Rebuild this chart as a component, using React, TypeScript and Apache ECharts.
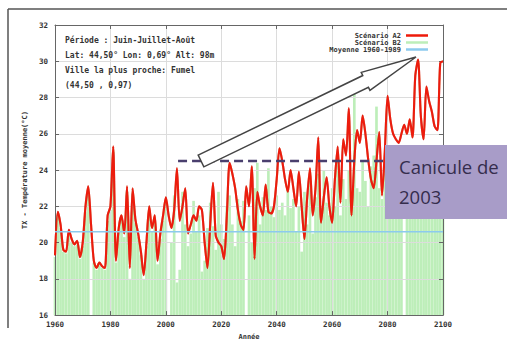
import React, { useEffect, useRef } from "react";
import * as echarts from "echarts";

const years: number[] = [];
for (let y = 1960; y <= 2100; y++) years.push(y);

const scenarioA2: number[] = [
  19.3, 21.7, 21.0, 19.6, 19.5, 20.7, 20.2, 19.9, 20.1, 19.2,
  20.0, 22.0, 23.1, 21.0, 19.0, 18.6, 18.9, 18.7, 18.6, 21.5,
  22.0, 25.3, 19.0, 20.8, 21.5, 20.5, 23.1, 18.6, 23.0, 21.3,
  20.5, 19.5, 18.2, 20.0, 22.0, 20.8, 21.5, 19.0, 20.5, 21.5,
  22.5, 21.5, 20.8, 21.8, 24.1, 21.2, 22.0, 23.0, 20.5, 21.0,
  21.5, 21.2, 22.0, 21.8, 20.0, 18.6, 21.0, 23.3, 20.4, 20.0,
  19.8, 19.1, 21.5, 24.4, 23.8, 23.0, 21.8, 21.0, 20.7, 23.1,
  22.0, 24.2, 19.1, 22.8, 22.0, 21.5, 23.2, 21.7, 21.6, 22.0,
  23.5, 25.2, 24.5, 23.5, 22.8, 24.0, 23.0, 22.0, 23.9, 22.0,
  20.2, 22.5, 24.1, 21.5, 23.0, 25.8, 21.1, 22.5, 23.6, 22.0,
  21.1, 23.5, 25.3, 22.2, 25.7, 24.8, 27.4, 21.5, 24.5, 26.2,
  25.5, 27.0, 26.0, 24.6, 23.5, 23.0, 24.5, 26.1, 22.6, 25.0,
  28.1, 26.8, 26.0, 25.7, 25.5, 26.0, 26.5, 26.0, 26.8, 25.8,
  29.2, 30.1, 27.0, 25.7, 28.6, 27.8, 27.2, 26.4, 26.2, 29.9,
  30.0,
];

const scenarioB2: (number | null)[] = [
  19.2, 21.5, 20.8, 19.5, 19.4, 20.5, 20.0, 19.8, 19.9, 19.1,
  19.8, 21.7, 22.8, null, 18.9, 18.5, 18.8, 18.6, 18.5, 21.2,
  21.8, 25.0, 18.9, 20.6, 21.3, 20.3, 22.8, 18.0, 22.7, 21.1,
  20.3, 19.3, 18.0, 19.8, 21.8, 20.6, 21.2, 18.8, 20.2, 21.2,
  22.2, null, 20.0, 22.6, 17.8, 18.5, 22.8, 21.0, 19.8, 20.5,
  22.3, 20.6, 21.5, 18.4, 19.0, 20.8, 22.2, 20.9, 19.6, 22.8,
  21.0, 20.2, 22.0, 22.6, 21.0, 19.8, 22.4, 21.2, 22.3, null,
  21.5, 20.0, 23.0, 24.4, 21.0, 22.5, 21.8, 24.1, 22.0, 21.4,
  22.6, 21.8, 22.2, 21.5, 23.0, 21.9, 22.4, 20.6, 22.0, 19.5,
  22.8, 21.0, 23.4, 20.5, 22.5, 23.8, 21.9, 24.0, 22.2, 21.5,
  23.0, 22.0, 24.6, 21.5, 23.5, 22.4, 24.0, 22.6, 28.4, 23.0,
  22.8, 24.5, 23.4, 22.0, 24.2, 24.8, 27.5, 23.0, 22.4, 24.6,
  23.0, 22.5, 24.2, 23.5, 22.6, 24.0, null, 23.2, 24.0, 22.8,
  23.6, 24.4, 23.0, 22.6, 24.0, 23.4, 22.8, 24.6, 23.2, 24.0,
  23.6,
];

const referenceMean = 20.6; // Moyenne 1960-1989
const heatwave2003Level = 24.5;
const heatwaveLineStart = 2004.4;

const xTicks = { min: 1960, max: 2100, interval: 20 };
const yTicks = { min: 16, max: 32, interval: 2 };

const seriesNames = ["Scénario A2", "Scénario B2", "Moyenne 1960-1989"];
const infoLines = [
  "Période : Juin-Juillet-Août",
  "Lat: 44,50° Lon: 0,69° Alt: 98m",
  "Ville la plus proche: Fumel",
  "(44,50 , 0,97)",
];
const calloutLines = ["Canicule de", "2003"];

const MONO = "'DejaVu Sans Mono', monospace";

function arrowPoints(tx: number, ty: number, px: number, py: number, w: number, headL: number, hw: number) {
  const dx = px - tx;
  const dy = py - ty;
  const len = Math.sqrt(dx * dx + dy * dy);
  const ux = dx / len, uy = dy / len;
  const nx = -uy, ny = ux;
  const s = len - headL;
  const pt = (a: number, h: number) => [tx + ux * a + nx * h, ty + uy * a + ny * h];
  return [pt(0, -w), pt(s, -w), pt(s, -hw), [px, py], pt(s, hw), pt(s, w), pt(0, w)];
}

export default function App() {
  const ref = useRef<HTMLDivElement>(null);
  useEffect(() => {
    if (!ref.current) return;
    const chart = echarts.init(ref.current, undefined, { renderer: "svg" });
    const axisText = { fontFamily: MONO, fontWeight: "bold" as const, fontSize: 7.5, color: "#333" };
    const option: any = {
      animation: false,
      backgroundColor: "#ffffff",
      grid: { left: 55, top: 25, right: 64, bottom: 28, containLabel: false },
      legend: {
        orient: "vertical",
        right: 74,
        top: 27,
        align: "right",
        icon: "rect",
        itemWidth: 22,
        itemHeight: 2.5,
        itemGap: 0,
        textStyle: { fontFamily: MONO, fontWeight: "bold", fontSize: 7, color: "#333", padding: [0, 0, 0, 0] },
        data: seriesNames,
      },
      xAxis: [
        {
          type: "value",
          min: xTicks.min,
          max: xTicks.max,
          interval: xTicks.interval,
          z: 2,
          name: "Année",
          nameLocation: "middle",
          nameGap: 17,
          nameTextStyle: { ...axisText, fontSize: 7 },
          axisLine: { show: true, lineStyle: { color: "#666", width: 1 } },
          axisTick: { show: true, inside: true, length: 4, lineStyle: { color: "#666" } },
          axisLabel: { ...axisText, margin: 5, formatter: (v: number) => String(v) },
          splitLine: { show: true, lineStyle: { color: "#dcdcdc", width: 1 } },
        },
        {
          type: "value",
          position: "top",
          min: xTicks.min,
          max: xTicks.max,
          interval: xTicks.interval,
          z: 2,
          axisLine: { show: true, lineStyle: { color: "#666", width: 1 } },
          axisTick: { show: true, inside: true, length: 4, lineStyle: { color: "#666" } },
          axisLabel: { show: false },
          splitLine: { show: false },
        },
      ],
      yAxis: [
        {
          type: "value",
          min: yTicks.min,
          max: yTicks.max,
          interval: yTicks.interval,
          z: 2,
          name: "TX - Température moyenne(°C)",
          nameLocation: "middle",
          nameGap: 26,
          nameTextStyle: { ...axisText, fontSize: 7 },
          axisLine: { show: true, lineStyle: { color: "#666", width: 1 } },
          axisTick: { show: true, inside: true, length: 4, lineStyle: { color: "#666" } },
          axisLabel: { ...axisText, margin: 7 },
          splitLine: { show: true, lineStyle: { color: "#dcdcdc", width: 1 } },
        },
        {
          type: "value",
          position: "right",
          min: yTicks.min,
          max: yTicks.max,
          interval: yTicks.interval,
          z: 2,
          axisLine: { show: true, lineStyle: { color: "#666", width: 1 } },
          axisTick: { show: true, inside: true, length: 4, lineStyle: { color: "#666" } },
          axisLabel: { show: false },
          splitLine: { show: false },
        },
      ],
      series: [
        {
          name: seriesNames[1],
          type: "bar",
          z: 1,
          barWidth: 2.65,
          clip: true,
          itemStyle: { color: "#bdeeb9" },
          data: years.map((y, i) => [y, scenarioB2[i]]),
        },
        {
          name: seriesNames[0],
          type: "line",
          z: 3,
          smooth: 0.25,
          symbol: "none",
          itemStyle: { color: "#ee1a0a" },
          lineStyle: { color: "#ec1c0c", width: 2.1, shadowColor: "rgba(120,40,0,0.45)", shadowBlur: 1.5 },
          data: years.map((y, i) => [y, scenarioA2[i]]),
        },
        {
          name: seriesNames[2],
          type: "line",
          z: 3,
          symbol: "none",
          itemStyle: { color: "#8ccaee" },
          lineStyle: { color: "#8ccaee", width: 1.5 },
          data: [[xTicks.min, referenceMean], [xTicks.max, referenceMean]],
        },
        {
          name: "canicule",
          type: "line",
          z: 4,
          symbol: "none",
          silent: true,
          lineStyle: { color: "#4a3f6e", width: 2.5, type: [9, 5] },
          data: [[heatwaveLineStart, heatwave2003Level], [xTicks.max, heatwave2003Level]],
        },
      ],
      graphic: [
        { type: "line", z: 100, shape: { x1: 8, y1: 9, x2: 507, y2: 9 }, style: { stroke: "#555", lineWidth: 1.5 } },
        { type: "line", z: 100, shape: { x1: 8, y1: 9, x2: 8, y2: 328 }, style: { stroke: "#555", lineWidth: 1.5 } },
        ...infoLines.map((t, i) => ({
          type: "text",
          z: 100,
          x: 65,
          y: [40, 55, 70, 85][i],
          style: { text: t, fontFamily: MONO, fontWeight: "bold", fontSize: 8, fill: "#333", verticalAlign: "middle" },
        })),
        {
          type: "polygon",
          z: 100,
          shape: { points: arrowPoints(201, 161, 416, 57, 6.5, 56, 10) },
          style: { fill: "#ffffff", stroke: "#444", lineWidth: 1.5 },
        },
        {
          type: "rect",
          z: 101,
          shape: { x: 385, y: 145, width: 130, height: 74 },
          style: { fill: "#a89cc8" },
        },
        ...calloutLines.map((t, i) => ({
          type: "text",
          z: 102,
          x: 399,
          y: [166, 196][i],
          style: { text: t, fontFamily: "'Open Sans', sans-serif", fontSize: 18.5, fill: "#352d4d", verticalAlign: "middle" },
        })),
      ],
    };
    chart.setOption(option);
    return () => chart.dispose();
  }, []);
  return <div ref={ref} style={{ position: "fixed", left: 0, top: 0, width: 507, height: 345 }} />;
}
